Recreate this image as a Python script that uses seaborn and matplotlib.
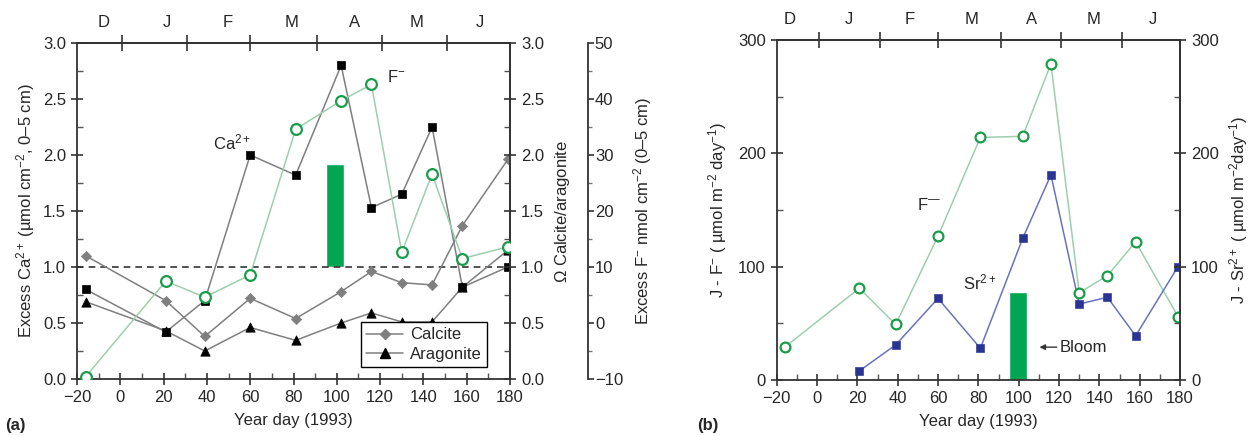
import matplotlib
matplotlib.use("Agg")
import matplotlib.pyplot as plt
from matplotlib.ticker import MultipleLocator, FixedLocator, NullFormatter, FixedFormatter
from matplotlib.lines import Line2D
import seaborn as sns
import pandas as pd

# ---------------- data ----------------
days_a = [-16, 21, 39, 60, 81, 102, 116, 130, 144, 158, 179]
calcite = [1.10, 0.70, 0.38, 0.72, 0.54, 0.78, 0.96, 0.86, 0.84, 1.37, 1.96]
aragonite = [0.69, 0.43, 0.25, 0.46, 0.345, 0.50, 0.59, 0.51, 0.51, 0.82, 1.15]
ca_excess = [0.80, 0.42, 0.70, 2.00, 1.82, 2.80, 1.53, 1.65, 2.25, 0.82, 1.00]
f_excess = [-9.6, 7.5, 4.6, 8.6, 34.6, 39.7, 42.6, 12.6, 26.6, 11.5, 13.6]

days_bf = [-16, 21, 39, 60, 81, 102, 116, 130, 144, 158, 179]
flux_f = [29, 81, 49, 127, 214, 215, 279, 77, 92, 122, 56]
days_bs = [21, 39, 60, 81, 102, 116, 130, 144, 158, 179]
flux_sr = [8, 31, 72, 28, 125, 181, 67, 73, 39, 100]

bloom_a = [95.0, 103.5, 1.0, 1.92]   # start, end, bottom, top
bloom_b = [95.3, 104.1, 0.0, 78.0]

month_labels = ["D", "J", "F", "M", "A", "M", "J"]
month_bounds = [1, 31, 60, 91, 121, 151]
month_mid_a = [-7.6, 21.6, 49.7, 79.3, 108.4, 137, 166]
month_mid_b = [-13.4, 16, 46, 76.7, 106.4, 137, 166.7]

# ---------------- style ----------------
sns.set_style("ticks")
plt.rcParams["font.family"] = ["Liberation Sans", "DejaVu Sans"]
plt.rcParams["mathtext.fontset"] = "custom"
plt.rcParams["mathtext.rm"] = "Liberation Sans"
plt.rcParams["mathtext.it"] = "Liberation Sans:italic"
plt.rcParams["mathtext.default"] = "regular"
plt.rcParams["axes.edgecolor"] = "#333333"
plt.rcParams["axes.linewidth"] = 1.3

FS = 12
GREEN = "#1a9c4a"
LGREEN = "#9ccfae"
BAR = "#00a651"
GREY = "#7f7f7f"
BLUE = "#2a3593"
LBLUE = "#6a72c2"

fig = plt.figure(figsize=(12.52, 4.36), dpi=100)
axA = fig.add_axes([77 / 1252, 57 / 436, 433 / 1252, 336 / 436])
axB = fig.add_axes([776.7 / 1252, 56 / 436, 403.3 / 1252, 340 / 436])


def style_ticks(ax):
    ax.tick_params(which="major", direction="inout", length=9, width=1.2,
                   labelsize=FS, color="#333333")
    ax.tick_params(which="minor", direction="in", length=4, width=1.0,
                   color="#555555")


def month_axis(ax, mids):
    sec = ax.secondary_xaxis("top")
    sec.xaxis.set_major_locator(FixedLocator(month_bounds))
    sec.xaxis.set_major_formatter(NullFormatter())
    sec.xaxis.set_minor_locator(FixedLocator(mids))
    sec.xaxis.set_minor_formatter(FixedFormatter(month_labels))
    sec.tick_params(which="major", direction="inout", length=12, width=1.2,
                    color="#333333")
    sec.tick_params(which="minor", length=0, labelsize=FS, pad=9)
    return sec


# ---------------- panel (a) ----------------
axA.bar([(bloom_a[0] + bloom_a[1]) / 2], [bloom_a[3] - bloom_a[2]],
        width=bloom_a[1] - bloom_a[0], bottom=bloom_a[2], color=BAR,
        zorder=1)
axA.axhline(1.0, color="#333333", ls=(0, (4, 3)), lw=1.2, zorder=1.5)

sns.lineplot(x=days_a, y=calcite, ax=axA, color=GREY, lw=1.1, zorder=2)
sns.scatterplot(x=days_a, y=calcite, ax=axA, marker="D", s=28, color=GREY,
                edgecolor=GREY, zorder=3)
sns.lineplot(x=days_a, y=aragonite, ax=axA, color=GREY, lw=1.1, zorder=2)
sns.scatterplot(x=days_a, y=aragonite, ax=axA, marker="^", s=45,
                color="black", edgecolor="black", zorder=3)
sns.lineplot(x=days_a, y=ca_excess, ax=axA, color=GREY, lw=1.1, zorder=2)
sns.scatterplot(x=days_a, y=ca_excess, ax=axA, marker="s", s=38,
                color="black", edgecolor="black", zorder=3)

axA.set_xlim(-20, 180)
axA.set_ylim(0, 3)
axA.xaxis.set_minor_locator(MultipleLocator(10))
axA.yaxis.set_major_locator(MultipleLocator(0.5))
axA.yaxis.set_minor_locator(MultipleLocator(0.25))
axA.yaxis.set_major_formatter(matplotlib.ticker.FormatStrFormatter("%.1f"))
style_ticks(axA)
axA.set_xticks([-20, 0, 20, 40, 60, 80, 100, 120, 140, 160, 180])
axA.set_xticklabels(["\u221220", "0", "20", "40", "60", "80", "100", "120",
                     "140", "160", "180"])
axA.set_xlabel("Year day (1993)", fontsize=FS, labelpad=6)
axA.set_ylabel("Excess Ca$^{2+}$ (µmol cm$^{-2}$, 0\u20135 cm)", fontsize=FS,
               labelpad=4)
month_axis(axA, month_mid_a)

# Omega axis (same scale)
axO = axA.twinx()
axO.set_ylim(0, 3)
axO.yaxis.set_major_locator(MultipleLocator(0.5))
axO.yaxis.set_minor_locator(MultipleLocator(0.25))
axO.yaxis.set_major_formatter(matplotlib.ticker.FormatStrFormatter("%.1f"))
style_ticks(axO)
axO.set_ylabel("$\\mathit{Ω}$ Calcite/aragonite", fontsize=FS, labelpad=6)
for s in ["top", "left", "bottom"]:
    axO.spines[s].set_visible(False)

# F- axis
axF = axA.twinx()
axF.spines["right"].set_position(("axes", 1.18))
for s in ["top", "left", "bottom"]:
    axF.spines[s].set_visible(False)
sns.lineplot(x=days_a, y=f_excess, ax=axF, color=LGREEN, lw=1.1, zorder=2)
sns.scatterplot(x=days_a, y=f_excess, ax=axF, marker="o", s=60,
                facecolor="white", edgecolor=GREEN, linewidth=1.6, zorder=3)
axF.set_ylim(-10, 50)
axF.yaxis.set_minor_locator(MultipleLocator(5))
axF.tick_params(which="major", direction="out", length=4, width=1.2,
                labelsize=FS, pad=1, color="#333333")
axF.tick_params(which="minor", direction="out", length=3, width=1.0,
                color="#777777")
axF.set_yticks([-10, 0, 10, 20, 30, 40, 50])
axF.set_yticklabels(["\u221210", "0", "10", "20", "30", "40", "50"])
axF.set_ylabel("Excess F$^{-}$ nmol cm$^{-2}$ (0\u20135 cm)", fontsize=FS,
               labelpad=6)

axA.text(43, 2.11, "Ca$^{2+}$", fontsize=FS, ha="left", va="center")
axA.text(123, 2.70, "F$^{-}$", fontsize=FS, ha="left", va="center")

handles = [
    Line2D([], [], color=GREY, lw=1.1, marker="D", markersize=5,
           markerfacecolor=GREY, markeredgecolor=GREY),
    Line2D([], [], color=GREY, lw=1.1, marker="^", markersize=6.5,
           markerfacecolor="black", markeredgecolor="black"),
]
leg = axF.legend(handles, ["Calcite", "Aragonite"], loc="lower right",
                 bbox_to_anchor=(0.965, 0.012), bbox_transform=axF.transAxes,
                 fontsize=FS, frameon=True, fancybox=False, handlelength=2.2,
                 borderpad=0.3, labelspacing=0.25, handletextpad=0.4,
                 framealpha=1.0)
leg.get_frame().set_edgecolor("black")
leg.get_frame().set_linewidth(1.0)
leg.set_zorder(10)

# ---------------- panel (b) ----------------
axB.bar([(bloom_b[0] + bloom_b[1]) / 2], [bloom_b[3] - bloom_b[2]],
        width=bloom_b[1] - bloom_b[0], bottom=bloom_b[2], color=BAR,
        zorder=1)
sns.lineplot(x=days_bf, y=flux_f, ax=axB, color=LGREEN, lw=1.1, zorder=2)
sns.scatterplot(x=days_bf, y=flux_f, ax=axB, marker="o", s=50,
                facecolor="white", edgecolor=GREEN, linewidth=1.6, zorder=3)
sns.lineplot(x=days_bs, y=flux_sr, ax=axB, color=LBLUE, lw=1.1, zorder=2)
sns.scatterplot(x=days_bs, y=flux_sr, ax=axB, marker="s", s=30,
                color=BLUE, edgecolor=BLUE, zorder=3)

axB.set_xlim(-20, 180)
axB.set_ylim(0, 300)
axB.xaxis.set_minor_locator(MultipleLocator(10))
axB.yaxis.set_major_locator(MultipleLocator(100))
axB.yaxis.set_minor_locator(MultipleLocator(50))
style_ticks(axB)
axB.set_xticks([-20, 0, 20, 40, 60, 80, 100, 120, 140, 160, 180])
axB.set_xticklabels(["\u221220", "0", "20", "40", "60", "80", "100", "120",
                     "140", "160", "180"])
axB.set_xlabel("Year day (1993)", fontsize=FS, labelpad=6)
axB.set_ylabel("J - F$^{-}$ ( µmol m$^{-2}$ day$^{-1}$)", fontsize=FS,
               labelpad=6)
month_axis(axB, month_mid_b)

axB2 = axB.twinx()
axB2.set_ylim(0, 300)
axB2.yaxis.set_major_locator(MultipleLocator(100))
axB2.yaxis.set_minor_locator(MultipleLocator(50))
style_ticks(axB2)
for s in ["top", "left", "bottom"]:
    axB2.spines[s].set_visible(False)
axB2.set_ylabel("J - Sr$^{2+}$ ( µmol m$^{-2}$day$^{-1}$)", fontsize=FS,
                labelpad=6)

axB.text(49.6, 154, "F$^{\u2014}$", fontsize=FS, ha="left", va="center")
axB.text(72.4, 86, "Sr$^{2+}$", fontsize=FS, ha="left", va="center")
axB.annotate("Bloom", xy=(110.3, 29), xytext=(120.5, 29), fontsize=FS,
             ha="left", va="center",
             arrowprops=dict(arrowstyle="-|>", color="#333333", lw=1.0,
                             shrinkA=0, shrinkB=0, mutation_scale=8))

fig.text(5 / 1252, 1 - 425 / 436, "(a)", fontsize=FS, fontweight="bold",
         ha="left", va="center")
fig.text(697 / 1252, 1 - 425 / 436, "(b)", fontsize=FS, fontweight="bold",
         ha="left", va="center")

fig.savefig("out.png", dpi=100)
